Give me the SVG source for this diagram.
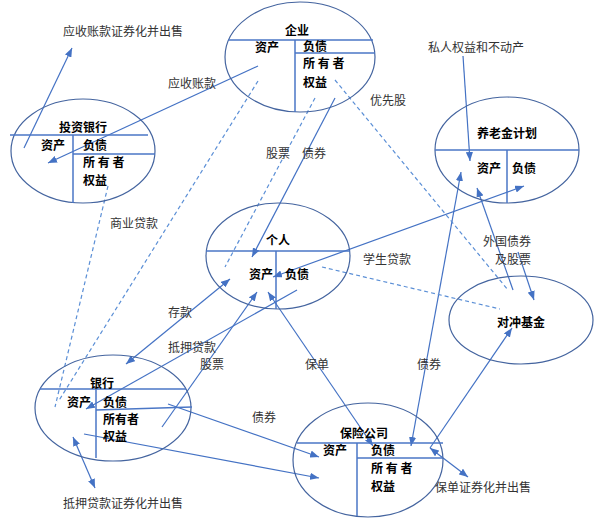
<svg xmlns="http://www.w3.org/2000/svg" width="600" height="525" viewBox="0 0 600 525">
<style>
.bg{fill:#ffffff}
.ell{fill:none;stroke:#44649f;stroke-width:1.2}
.div{stroke:#4a76c6;stroke-width:1.5;fill:none}
.nt{font-family:"Noto Sans CJK SC","Noto Sans",sans-serif;font-size:12px;font-weight:bold;fill:#000}
.lb{font-family:"Noto Sans CJK SC","Noto Sans",sans-serif;font-size:12px;fill:#333}
.c{stroke:#4472c4;stroke-width:1.2;fill:none}
.ca{stroke:#4472c4;stroke-width:1.2;fill:none;marker-end:url(#ah)}
.cb{stroke:#4472c4;stroke-width:1.2;fill:none;marker-end:url(#ah);marker-start:url(#ah)}
.d{stroke:#5b8fd6;stroke-width:1.2;fill:none;stroke-dasharray:4 3}
</style>
<defs>
<marker id="ah" viewBox="0 0 10 8" refX="10" refY="4" markerWidth="9" markerHeight="7.2" markerUnits="userSpaceOnUse" orient="auto-start-reverse">
<path d="M0,0 L10,4 L0,8 z" fill="#4472c4"/>
</marker>
</defs>
<rect class="bg" x="0" y="0" width="600" height="525"/>

<g id="connectors">
<line class="ca" x1="24" y1="148" x2="72" y2="48"/>
<line class="ca" x1="258" y1="66" x2="48" y2="163"/>
<line class="ca" x1="335" y1="98" x2="252" y2="257"/>
<line class="cb" x1="273" y1="277" x2="524" y2="186"/>
<line class="ca" x1="463" y1="56" x2="470" y2="161"/>
<line class="cb" x1="461" y1="172" x2="411" y2="446"/>
<line class="ca" x1="513" y1="290" x2="477" y2="188"/>
<line class="ca" x1="518" y1="252" x2="534" y2="300"/>
<line class="ca" x1="430" y1="448" x2="512" y2="328"/>
<line class="cb" x1="268" y1="292" x2="373" y2="446"/>
<line class="ca" x1="162" y1="427" x2="257" y2="292"/>
<line class="ca" x1="297" y1="290" x2="86" y2="409"/>
<line class="cb" x1="230" y1="279" x2="126" y2="364"/>
<line class="ca" x1="168" y1="404" x2="319" y2="457"/>
<line class="ca" x1="84" y1="434" x2="319" y2="478"/>
<line class="cb" x1="73" y1="437" x2="95" y2="488"/>
<line class="cb" x1="430" y1="448" x2="468" y2="477"/>
<line class="d" x1="108" y1="186" x2="55" y2="407"/>
<line class="d" x1="258" y1="81" x2="58" y2="402"/>
<line class="d" x1="315" y1="98" x2="225" y2="267"/>
<line class="d" x1="335" y1="80" x2="508" y2="290"/>
<line class="d" x1="322" y1="267" x2="500" y2="309"/>
</g>

<g id="node-qiye">
<ellipse class="ell" cx="300" cy="57" rx="75" ry="55"/>
<line class="div" x1="228" y1="40" x2="373" y2="40"/>
<line class="div" x1="295" y1="53" x2="375" y2="53"/>
<line class="div" x1="295" y1="40" x2="295" y2="112"/>
<text class="nt" x="285" y="34.5">企业</text>
<text class="nt" x="255" y="51.5">资产</text>
<text class="nt" x="303" y="50.5">负债</text>
<text class="nt" x="303" y="67.5">所 有 者</text>
<text class="nt" x="303" y="86.5">权益</text>
</g>

<g id="node-touzi">
<ellipse class="ell" cx="83" cy="151" rx="72" ry="52"/>
<line class="div" x1="10" y1="135" x2="148" y2="135"/>
<line class="div" x1="73" y1="154" x2="155" y2="154"/>
<line class="div" x1="73" y1="135" x2="73" y2="203"/>
<text class="nt" x="59" y="131.5">投资银行</text>
<text class="nt" x="41" y="149.5">资产</text>
<text class="nt" x="83" y="149.5">负债</text>
<text class="nt" x="83" y="166.5">所 有 者</text>
<text class="nt" x="83" y="184.5">权益</text>
</g>

<g id="node-geren">
<ellipse class="ell" cx="278" cy="256" rx="72" ry="53"/>
<line class="div" x1="206" y1="251" x2="350" y2="251"/>
<line class="div" x1="276" y1="251" x2="276" y2="309"/>
<text class="nt" x="266" y="244.5">个人</text>
<text class="nt" x="249" y="278.5">资产</text>
<text class="nt" x="285" y="278.5">负债</text>
</g>

<g id="node-yanglao">
<ellipse class="ell" cx="507" cy="150" rx="72" ry="53"/>
<line class="div" x1="435" y1="150" x2="579" y2="150"/>
<line class="div" x1="507" y1="150" x2="507" y2="203"/>
<text class="nt" x="477" y="137.5">养老金计划</text>
<text class="nt" x="477" y="172.5">资产</text>
<text class="nt" x="512" y="172.5">负债</text>
</g>

<g id="node-duichong">
<ellipse class="ell" cx="521" cy="320" rx="72" ry="44"/>
<text class="nt" x="497" y="326.5">对冲基金</text>
</g>

<g id="node-yinhang">
<ellipse class="ell" cx="113" cy="408" rx="78" ry="53"/>
<line class="div" x1="40" y1="389" x2="186" y2="389"/>
<line class="div" x1="96" y1="410" x2="192" y2="407"/>
<line class="div" x1="96" y1="389" x2="96" y2="458"/>
<text class="nt" x="90" y="387.5">银行</text>
<text class="nt" x="67" y="406.5">资产</text>
<text class="nt" x="103" y="406.5">负债</text>
<text class="nt" x="103" y="423.5">所有者</text>
<text class="nt" x="103" y="440.5">权益</text>
</g>

<g id="node-baoxian">
<ellipse class="ell" cx="368" cy="460" rx="75" ry="57"/>
<line class="div" x1="297" y1="443" x2="443" y2="443"/>
<line class="div" x1="357" y1="458" x2="443" y2="458"/>
<line class="div" x1="357" y1="443" x2="357" y2="516"/>
<text class="nt" x="340" y="437.5">保险公司</text>
<text class="nt" x="323" y="454.5">资产</text>
<text class="nt" x="371" y="454.5">负债</text>
<text class="nt" x="371" y="472.5">所 有 者</text>
<text class="nt" x="371" y="490.5">权益</text>
</g>

<g id="labels">
<text class="lb" x="63" y="35.5">应收账款证券化并出售</text>
<text class="lb" x="168" y="87.5">应收账款</text>
<text class="lb" x="266" y="157.5">股票</text>
<text class="lb" x="302" y="157.5">债券</text>
<text class="lb" x="370" y="104.5">优先股</text>
<text class="lb" x="428" y="51.5">私人权益和不动产</text>
<text class="lb" x="110" y="227.5">商业贷款</text>
<text class="lb" x="363" y="263.5">学生贷款</text>
<text class="lb" x="483" y="245.5">外国债券</text>
<text class="lb" x="495" y="263.5">及股票</text>
<text class="lb" x="168" y="316.5">存款</text>
<text class="lb" x="168" y="351.5">抵押贷款</text>
<text class="lb" x="200" y="368.5">股票</text>
<text class="lb" x="305" y="368.5">保单</text>
<text class="lb" x="417" y="368.5">债券</text>
<text class="lb" x="252" y="421.5">债券</text>
<text class="lb" x="63" y="507.5">抵押贷款证券化并出售</text>
<text class="lb" x="435" y="491.5">保单证券化并出售</text>
</g>
</svg>
